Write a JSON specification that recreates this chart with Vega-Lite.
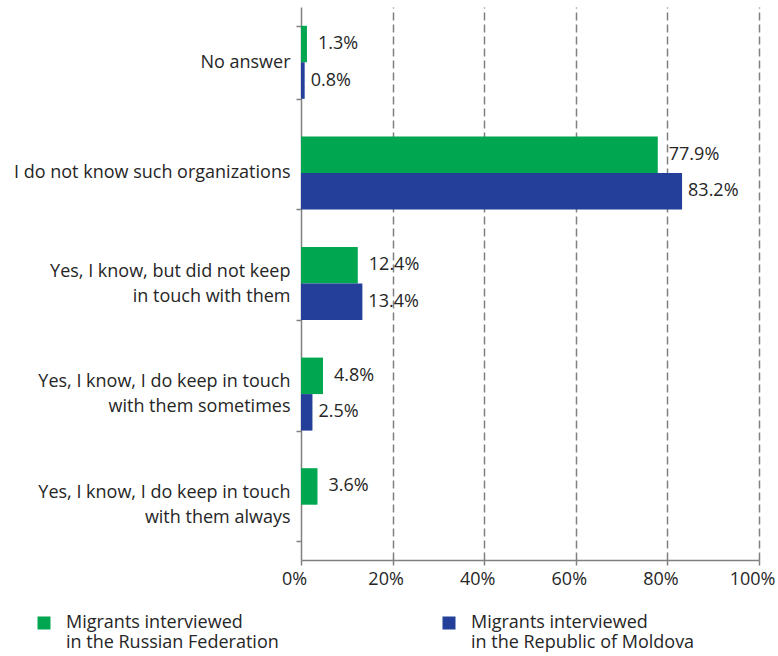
{
  "$schema": "https://vega.github.io/schema/vega-lite/v6.json",
  "width": 458,
  "height": 553,
  "autosize": {"type": "none"},
  "padding": {"left": 301, "top": 7, "right": 19, "bottom": 96},
  "background": "white",
  "config": {
    "view": {"stroke": null},
    "font": "Open Sans",
    "text": {"font": "Open Sans"}
  },
  "data": {
    "values": [
      {"answer": "No answer", "group": "Migrants interviewed|in the Russian Federation", "value": 1.3},
      {"answer": "No answer", "group": "Migrants interviewed|in the Republic of Moldova", "value": 0.8},
      {"answer": "I do not know such organizations", "group": "Migrants interviewed|in the Russian Federation", "value": 77.9},
      {"answer": "I do not know such organizations", "group": "Migrants interviewed|in the Republic of Moldova", "value": 83.2},
      {"answer": "Yes, I know, but did not keep|in touch with them", "group": "Migrants interviewed|in the Russian Federation", "value": 12.4},
      {"answer": "Yes, I know, but did not keep|in touch with them", "group": "Migrants interviewed|in the Republic of Moldova", "value": 13.4},
      {"answer": "Yes, I know, I do keep in touch|with them sometimes", "group": "Migrants interviewed|in the Russian Federation", "value": 4.8},
      {"answer": "Yes, I know, I do keep in touch|with them sometimes", "group": "Migrants interviewed|in the Republic of Moldova", "value": 2.5},
      {"answer": "Yes, I know, I do keep in touch|with them always", "group": "Migrants interviewed|in the Russian Federation", "value": 3.6}
    ]
  },
  "transform": [
    {"calculate": "format(datum.value, '.1f') + '%'", "as": "label"}
  ],
  "encoding": {
    "y": {
      "field": "answer",
      "type": "nominal",
      "sort": null,
      "scale": {
        "domain": [
          "No answer",
          "I do not know such organizations",
          "Yes, I know, but did not keep|in touch with them",
          "Yes, I know, I do keep in touch|with them sometimes",
          "Yes, I know, I do keep in touch|with them always"
        ],
        "paddingInner": 0.34,
        "paddingOuter": 0.17
      },
      "axis": {
        "title": null,
        "labelExpr": "isValid(datum.value) ? split(datum.value, '|') : ''",
        "labelFontSize": 18,
        "labelColor": "#262626",
        "labelLineHeight": 25,
        "labelPadding": 6,
        "labelLimit": 400,
        "labelOffset": {"condition": {"test": "isValid(datum.value) && indexof(datum.value, '|') >= 0", "value": -12.5}, "value": 0},
        "tickBand": "extent",
        "tickSize": 5,
        "tickColor": "#808080",
        "tickWidth": 1.5,
        "domainColor": "#808080",
        "domainWidth": 1.5,
        "grid": false
      }
    },
    "yOffset": {
      "field": "group",
      "type": "nominal",
      "sort": null,
      "scale": {
        "domain": ["Migrants interviewed|in the Russian Federation", "Migrants interviewed|in the Republic of Moldova"],
        "paddingInner": 0,
        "paddingOuter": 0
      }
    }
  },
  "layer": [
    {
      "mark": {"type": "bar"},
      "encoding": {
        "x": {
          "field": "value",
          "type": "quantitative",
          "scale": {"domain": [0, 100], "nice": false},
          "axis": {
            "title": null,
            "values": [0, 20, 40, 60, 80, 100],
            "labelExpr": "datum.value + '%'",
            "labelFontSize": 18,
            "labelColor": "#262626",
            "labelPadding": 5,
            "labelOffset": -7,
            "labelFlush": false,
            "tickSize": 5,
            "tickColor": "#808080",
            "tickWidth": 1.5,
            "domainColor": "#808080",
            "domainWidth": 1.5,
            "grid": true,
            "gridColor": "#808080",
            "gridWidth": 1.5,
            "gridDash": [8, 4],
            "gridOpacity": {"condition": {"test": "datum.value === 0", "value": 0}, "value": 1}
          }
        },
        "color": {
          "field": "group",
          "type": "nominal",
          "sort": null,
          "scale": {
            "domain": ["Migrants interviewed|in the Russian Federation", "Migrants interviewed|in the Republic of Moldova"],
            "range": ["#00A650", "#233F99"]
          },
          "legend": {
            "title": null,
            "orient": "none",
            "legendX": -266,
            "legendY": 607,
            "direction": "horizontal",
            "columns": 2,
            "columnPadding": 161,
            "symbolType": "square",
            "symbolSize": 169,
            "symbolStrokeWidth": 0,
            "labelExpr": "split(datum.value, '|')",
            "labelFontSize": 18,
            "labelColor": "#262626",
            "labelLineHeight": 25,
            "labelOffset": 13,
            "labelLimit": 400,
            "labelBaseline": "middle",
            "padding": 0
          }
        }
      }
    },
    {
      "transform": [{"filter": "datum.group === 'Migrants interviewed|in the Russian Federation'"}],
      "mark": {"type": "text", "align": "left", "baseline": "middle", "dx": 11, "fontSize": 18, "color": "#262626"},
      "encoding": {
        "x": {"field": "value", "type": "quantitative"},
        "text": {"field": "label", "type": "nominal"}
      }
    },
    {
      "transform": [{"filter": "datum.group === 'Migrants interviewed|in the Republic of Moldova'"}],
      "mark": {"type": "text", "align": "left", "baseline": "middle", "dx": 6, "fontSize": 18, "color": "#262626"},
      "encoding": {
        "x": {"field": "value", "type": "quantitative"},
        "text": {"field": "label", "type": "nominal"}
      }
    }
  ]
}
